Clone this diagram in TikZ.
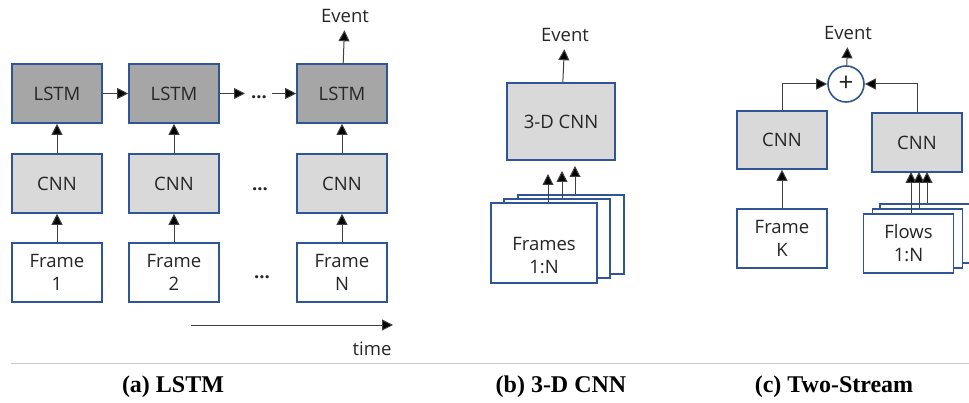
\documentclass[tikz,border=0pt]{standalone}
\usepackage{fontspec}
\setmainfont{Open Sans}
\newfontfamily\captionfont{Liberation Serif}
\usetikzlibrary{arrows.meta, positioning}
\definecolor{boxblue}{RGB}{47,85,151}
\definecolor{lstmgray}{RGB}{166,166,166}
\definecolor{cnngray}{RGB}{217,217,217}
\definecolor{linegray}{RGB}{64,64,64}
\definecolor{rulegray}{RGB}{200,200,200}
\definecolor{textgray}{RGB}{38,38,38}
\tikzstyle{blok} = [draw=boxblue, line width=1.6pt, rectangle, minimum width=90pt, minimum height=59pt, align=center, inner sep=0pt]
\tikzstyle{lstmblok} = [blok, fill=lstmgray]
\tikzstyle{cnnblok} = [blok, fill=cnngray]
\tikzstyle{frameblok} = [blok, fill=white]
\tikzstyle{pijl} = [draw=linegray, line width=1pt, -{Triangle[length=11pt,width=11pt,fill=black]}]
\tikzstyle{onderschrift} = [font=\captionfont\bfseries\fontsize{24}{28}\selectfont]
\begin{document}
\begin{tikzpicture}[x=1pt, y=-1pt, font=\fontsize{18.5}{23}\selectfont, text=textgray]
	\useasboundingbox (0,0) rectangle (969,403);
	% (a) LSTM
	\node[lstmblok] (l1) at (57,93.5) {LSTM};
	\node[lstmblok] (l2) at (174,93.5) {LSTM};
	\node[lstmblok] (l3) at (342,93.5) {LSTM};
	\node[cnnblok] (c1) at (57,183.5) {CNN};
	\node[cnnblok] (c2) at (174,183.5) {CNN};
	\node[cnnblok] (c3) at (342,183.5) {CNN};
	\node[frameblok] (f1) at (57,272.5) {Frame\\1};
	\node[frameblok] (f2) at (174,272.5) {Frame\\2};
	\node[frameblok] (f3) at (342,272.5) {Frame\\N};
	\node (dl) at (259,97) {\textbf{...}};
	\node (dc) at (260,189) {\textbf{...}};
	\node (df) at (262,277) {\textbf{...}};
	\node (evA) at (345,16) {Event};
	\coordinate (la) at (245,93.5);
	\coordinate (lb) at (272,93.5);
	\draw[pijl] (l1) -- (l2);
	\draw[pijl] (l2) -- (la);
	\draw[pijl] (lb) -- (l3);
	\foreach \i in {1,2,3} {
		\draw[pijl] (f\i) -- (c\i);
		\draw[pijl] (c\i) -- (l\i);
	}
	\draw[pijl, shorten >=4pt] (l3) -- (evA);
	\coordinate (t0) at (191,325);
	\coordinate (t1) at (393,325);
	\draw[pijl] (t0) -- (t1);
	\node[anchor=east] (tijd) at (395,349) {time};
	% (b) 3-D CNN
	\node[cnnblok, minimum width=108pt, minimum height=77pt] (cb) at (561,121.5) {3-D CNN};
	\node[frameblok, minimum width=106pt, minimum height=79pt] (fb3) at (571,234.5) {};
	\node[frameblok, minimum width=106pt, minimum height=79pt] (fb2) at (557,238.5) {};
	\node[frameblok, minimum width=106pt, minimum height=80pt] (fb1) at (544,243) {};
	\node[align=center] (fbtxt) at (544,256) {Frames\\1:N};
	\coordinate (pb1) at (548,174);
	\coordinate (pb2) at (562,171);
	\coordinate (pb3) at (575,166);
	\foreach \i in {1,2,3}
		\draw[pijl] (fb\i.north -| pb\i) -- (pb\i);
	\node (evB) at (565,35) {Event};
	\draw[pijl, shorten >=4pt] (cb) -- (evB);
	% (c) Two-Stream
	\node[cnnblok, minimum height=58pt] (cl) at (782,140) {CNN};
	\node[cnnblok] (cr) at (917,142.5) {CNN};
	\node[frameblok] (fk) at (782,238.5) {Frame\\K};
	\node[frameblok] (fc3) at (925,233.5) {};
	\node[frameblok] (fc2) at (917.5,238.5) {};
	\node[frameblok] (fc1) at (908.5,243.5) {Flows\\1:N};
	\node[circle, draw=boxblue, line width=1.6pt, fill=white, minimum size=36pt, inner sep=0pt] (plus) at (846,84) {\fontsize{26}{26}\selectfont +};
	\node (evC) at (848,33) {Event};
	\draw[pijl] (fk) -- (cl);
	\draw[pijl] (cl.north) |- (plus.west);
	\draw[pijl] (cr.north) |- (plus.east);
	\draw[pijl, shorten >=4pt] (plus) -- (evC);
	\coordinate (pc1) at (911,172);
	\coordinate (pc2) at (919,172);
	\coordinate (pc3) at (927,172);
	\foreach \i in {1,2,3}
		\draw[pijl] (fc\i.north -| pc\i) -- (pc\i);
	% captions
	\draw[rulegray, line width=1pt] (11,363) -- (969,363);
	\node[onderschrift, text=black] (capA) at (173,387) {(a) LSTM};
	\node[onderschrift, text=black] (capB) at (561,387) {(b) 3-D CNN};
	\node[onderschrift, text=black] (capC) at (834,387) {(c) Two-Stream};
\end{tikzpicture}
\end{document}
